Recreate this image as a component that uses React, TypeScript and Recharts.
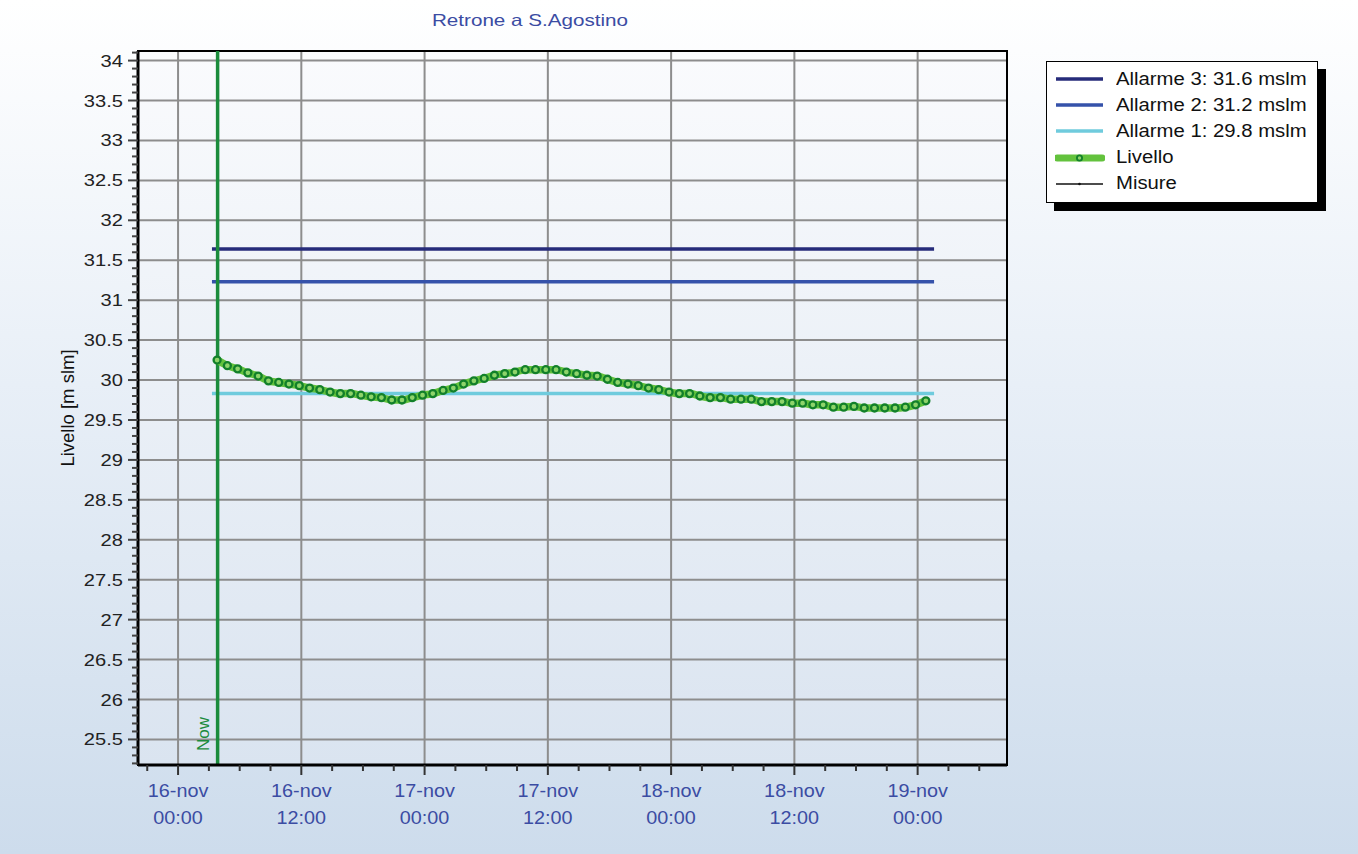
import React from 'react';
import { LineChart, Line, XAxis, YAxis, CartesianGrid, ReferenceLine, ReferenceArea } from 'recharts';

const title = 'Retrone a S.Agostino';
const yAxisTitle = 'Livello [m slm]';

// x is in hours counted from 16-nov 00:00
const livelloStart = 3.8;
const livelloValues = [
  30.25, 30.18, 30.14, 30.09, 30.05, 29.99, 29.97, 29.95, 29.93, 29.9,
  29.88, 29.85, 29.83, 29.83, 29.81, 29.79, 29.78, 29.75, 29.75, 29.78,
  29.81, 29.83, 29.87, 29.9, 29.95, 29.99, 30.02, 30.06, 30.08, 30.1,
  30.13, 30.13, 30.13, 30.13, 30.1, 30.08, 30.06, 30.05, 30.01, 29.97,
  29.95, 29.93, 29.9, 29.88, 29.85, 29.83, 29.83, 29.8, 29.78, 29.78,
  29.76, 29.76, 29.76, 29.73, 29.73, 29.73, 29.71, 29.71, 29.69, 29.69,
  29.66, 29.66, 29.67, 29.65, 29.65, 29.65, 29.65, 29.66, 29.69, 29.74,
];

const alarmNames = ['Allarme 3: 31.6 mslm', 'Allarme 2: 31.2 mslm', 'Allarme 1: 29.8 mslm'];
const alarmLevels = [31.64, 31.23, 29.83];
const alarmFrom = 3.3;
const alarmTo = 73.6;

const livelloName = 'Livello';
const misureName = 'Misure';

const nowHour = 3.85;
const nowLabel = 'Now';

const xMajor = [0, 12, 24, 36, 48, 60, 72];
const xDays = ['16-nov', '16-nov', '17-nov', '17-nov', '18-nov', '18-nov', '19-nov'];
const xTimes = ['00:00', '12:00', '00:00', '12:00', '00:00', '12:00', '00:00'];
const xDomain = [-3.9, 80.7];

const yMajor = [25.5, 26, 26.5, 27, 27.5, 28, 28.5, 29, 29.5, 30, 30.5, 31, 31.5, 32, 32.5, 33, 33.5, 34];
const yDomain = [25.18, 34.12];

// minor ticks: every 3 hours, every 0.1 m
const xTicks: number[] = [];
for (let h = -3; h <= 78; h += 3) xTicks.push(h);
const yTicks: number[] = [];
for (let i = 252; i <= 341; i++) yTicks.push(i / 10);

const alarmColors = ['#262b7a', '#3552aa', '#6fcbdd'];
const livelloColor = '#63c23d';
const dotColor = '#12802a';
const nowColor = '#1b8c3c';
const labelBlue = '#3b4ca3';
const font = '"Liberation Sans", Arial, sans-serif';

const livelloData = livelloValues.map((v, i) => ({ h: livelloStart + i, v }));
const alarmData = alarmLevels.map((lvl) => [
  { h: alarmFrom, v: lvl },
  { h: alarmTo, v: lvl },
]);

const XTick = (props: any) => {
  const { x, y, payload } = props;
  const i = xMajor.indexOf(payload.value);
  const major = i >= 0;
  return (
    <g>
      <line x1={x} y1={y} x2={x} y2={y + (major ? 10 : 6)} stroke="#333" strokeWidth={2} />
      {major && (
        <text
          transform={`translate(${x},${y}) scale(1.1,1)`}
          textAnchor="middle"
          fill={labelBlue}
          fontSize={18}
          fontFamily={font}
        >
          <tspan x={0} y={32}>{xDays[i]}</tspan>
          <tspan x={0} y={59}>{xTimes[i]}</tspan>
        </text>
      )}
    </g>
  );
};

const YTick = (props: any) => {
  const { x, y, payload } = props;
  const v = payload.value;
  const idx = yMajor.findIndex((m) => Math.abs(m - v) < 1e-6);
  const major = idx >= 0;
  return (
    <g>
      <line x1={x - (major ? 10 : 6)} y1={y} x2={x} y2={y} stroke="#444" strokeWidth={2} />
      {major && (
        <text
          transform={`translate(${x - 15},${y + 6}) scale(1.22,1)`}
          textAnchor="end"
          fill="#222"
          fontSize={16.5}
          fontFamily={font}
        >
          {String(yMajor[idx])}
        </text>
      )}
    </g>
  );
};

const NowLabel = (props: any) => {
  const vb = props.viewBox || {};
  const cx = vb.x - 15;
  const cy = vb.y + vb.height - 31;
  return (
    <text
      transform={`translate(${cx},${cy}) rotate(-90)`}
      textAnchor="middle"
      dy="0.35em"
      fill={nowColor}
      fontSize={17}
      fontFamily={font}
    >
      {nowLabel}
    </text>
  );
};

const LegendSample = ({ kind, color }: { kind: string; color: string }) => (
  <svg width={50} height={12} style={{ display: 'block' }}>
    {kind === 'alarm' && <line x1={1} y1={6} x2={48} y2={6} stroke={color} strokeWidth={3.5} />}
    {kind === 'livello' && (
      <g>
        <line x1={2} y1={6} x2={47} y2={6} stroke={livelloColor} strokeWidth={7} strokeLinecap="round" />
        <circle cx={24.5} cy={6} r={2.6} fill="#8ed46a" stroke={dotColor} strokeWidth={1.8} />
      </g>
    )}
    {kind === 'misure' && (
      <g>
        <line x1={1} y1={6} x2={48} y2={6} stroke="#111" strokeWidth={1.3} />
        <circle cx={24.5} cy={6} r={1.3} fill="#111" />
      </g>
    )}
  </svg>
);

export default function App() {
  const legendRows = [
    ...alarmNames.map((n, i) => ({ name: n, kind: 'alarm', color: alarmColors[i] })),
    { name: livelloName, kind: 'livello', color: livelloColor },
    { name: misureName, kind: 'misure', color: '#111' },
  ];

  return (
    <div
      style={{
        position: 'fixed',
        left: 0,
        top: 0,
        width: 1358,
        height: 854,
        background: 'linear-gradient(180deg, #ffffff 0%, #e8eff7 45%, #cddcec 100%)',
        fontFamily: font,
        overflow: 'hidden',
      }}
    >
      <div
        style={{
          position: 'absolute',
          left: 530,
          top: 11,
          transform: 'translateX(-50%) scale(1.25,1)',
          color: labelBlue,
          fontSize: 16.5,
          whiteSpace: 'nowrap',
        }}
      >
        {title}
      </div>
      <div
        style={{
          position: 'absolute',
          left: 68,
          top: 408,
          transform: 'translate(-50%,-50%) rotate(-90deg)',
          color: '#111',
          fontSize: 18.5,
          whiteSpace: 'nowrap',
        }}
      >
        {yAxisTitle}
      </div>

      <div style={{ position: 'absolute', left: 0, top: 0 }}>
        <LineChart width={1358} height={854} margin={{ top: 51, right: 351, bottom: 29, left: 78 }}>
          <defs>
            <linearGradient id="plotBg" x1="0" y1="0" x2="0" y2="1">
              <stop offset="0%" stopColor="#fafbfd" />
              <stop offset="100%" stopColor="#dae4f0" />
            </linearGradient>
          </defs>
          <CartesianGrid
            verticalValues={xMajor}
            horizontalValues={yMajor}
            stroke="#8d8d8d"
            strokeWidth={2}
            fill="url(#plotBg)"
            fillOpacity={1}
          />
          <XAxis
            type="number"
            dataKey="h"
            domain={xDomain}
            ticks={xTicks}
            interval={0}
            allowDataOverflow
            tickSize={0}
            tickMargin={0}
            tickLine={false}
            tick={<XTick />}
            axisLine={{ stroke: '#000', strokeWidth: 3 }}
            height={60}
          />
          <YAxis
            type="number"
            dataKey="v"
            domain={yDomain}
            ticks={yTicks}
            interval={0}
            allowDataOverflow
            tickSize={0}
            tickMargin={0}
            tickLine={false}
            tick={<YTick />}
            axisLine={{ stroke: '#000', strokeWidth: 3 }}
            width={60}
          />
          <ReferenceArea
            x1={xDomain[0]}
            x2={xDomain[1]}
            y1={yDomain[0]}
            y2={yDomain[1]}
            fill="none"
            fillOpacity={0}
            stroke="#000"
            strokeWidth={2}
          />
          {alarmData.map((d, i) => (
            <Line
              key={alarmNames[i]}
              data={d}
              dataKey="v"
              name={alarmNames[i]}
              type="linear"
              stroke={alarmColors[i]}
              strokeWidth={3.5}
              dot={false}
              activeDot={false}
              isAnimationActive={false}
            />
          ))}
          <ReferenceLine x={nowHour} stroke={nowColor} strokeWidth={3.5} label={<NowLabel />} />
          <Line
            data={livelloData}
            dataKey="v"
            name={livelloName}
            type="monotone"
            stroke={livelloColor}
            strokeWidth={7.5}
            dot={{ r: 3.5, stroke: dotColor, strokeWidth: 2.3, fill: '#8ed46a' }}
            activeDot={false}
            isAnimationActive={false}
          />
        </LineChart>
      </div>

      <div
        style={{
          position: 'absolute',
          left: 1046,
          top: 61,
          width: 270,
          height: 140,
          background: '#fff',
          border: '1.5px solid #000',
          boxShadow: '8px 8px 0 #000',
        }}
      >
        {legendRows.map((r, i) => (
          <div
            key={r.name}
            style={{ position: 'absolute', left: 8, top: 10 + i * 26.2, height: 14, display: 'flex', alignItems: 'center' }}
          >
            <LegendSample kind={r.kind} color={r.color} />
            <span
              style={{
                marginLeft: 11,
                fontSize: 17.5,
                color: '#111',
                whiteSpace: 'nowrap',
                display: 'inline-block',
                transform: 'scale(1.16,1)',
                transformOrigin: 'left center',
              }}
            >
              {r.name}
            </span>
          </div>
        ))}
      </div>
    </div>
  );
}
